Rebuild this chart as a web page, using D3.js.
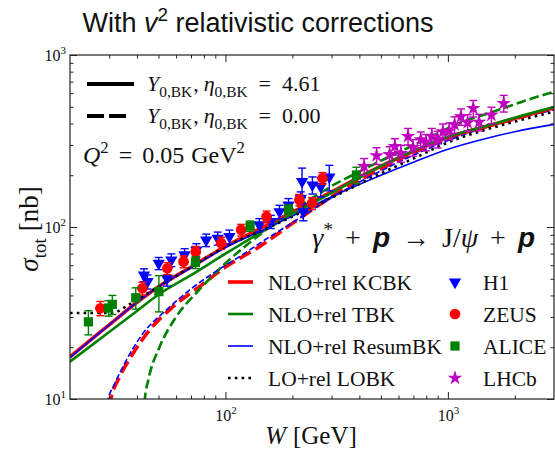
<!DOCTYPE html>
<html>
<head>
<meta charset="utf-8">
<script src="https://cdn.jsdelivr.net/npm/d3@7"></script>
<style>
  body { margin: 0; background: #fff; }
  svg { display: block; }
  text { font-family: "Liberation Serif", "DejaVu Serif", serif; fill: #111; }
</style>
</head>
<body>
<svg id="chart" width="555" height="455"></svg>
<script>
// ---------------- data ----------------
// Theory curves: W [GeV] grid and sigma_tot [nb]
const solidW    = [20, 25, 30, 40, 50, 70, 100, 150, 200, 300, 500, 700, 1000, 1500, 2000, 3000];
const kcbkSolid = [17.6, 22.3, 27.0, 36.5, 45.0, 58.5, 77, 101, 122, 160, 226, 275, 332, 385, 428, 493];
const tbkSolid  = [16.5, 20.5, 24.5, 32.5, 40.5, 52.5, 70, 96, 119, 158, 226, 277, 335, 388, 432, 498];
const rbkSolid  = [17.4, 22.2, 27.0, 36.5, 45.0, 58.0, 76, 97, 116, 150, 200, 238, 283, 328, 358, 395];

const loW    = [20, 31, 35, 40, 50, 70, 100, 150, 200, 300, 500, 700, 1000, 1500, 2000, 3000];
const loBK   = [31.6, 31.6, 34.0, 37.8, 45.0, 58.5, 77, 97, 115, 148, 205, 250, 310, 370, 410, 468];

const kcbkDashW = [29.0, 30.5, 33.5, 38.4, 45.6, 58.1, 76.4, 100, 142, 200, 300, 500, 1000, 2000, 3000];
const kcbkDash  = [7.0, 10, 13.5, 18.4, 25.2, 34.4, 45.0, 58.5, 76.8, 105, 150, 218, 328, 425, 490];

const rbkDashW = [28.3, 29.6, 31.3, 35.9, 42.6, 54.2, 69.0, 87.7, 115.6, 150, 200, 300, 500, 1000, 2000, 3000];
const rbkDash  = [7.5, 10, 11.8, 16.9, 24.1, 32.9, 43.0, 53.8, 67.2, 84, 106, 148, 212, 318, 425, 480];

const tbkDashW = [43.2, 43.4, 45, 50.6, 60, 76, 100, 150, 200, 268, 300, 372, 500, 624, 800, 1119, 1500, 1815, 2200, 3000];
const tbkDash  = [8.0, 10, 12.9, 20.1, 30, 43, 61.5, 95, 125, 158, 173, 200, 243, 278, 325, 401, 455, 495, 540, 612];

// Measurements
const h1W     = [43.0, 44.6, 50.1, 54.6, 57.1, 65.5, 74.0, 81.9, 92.3, 104.2, 142, 160, 175, 192, 218, 221, 224, 246, 268, 293];
const h1Sigma = [52.6, 48.1, 61.5, 50.3, 64.3, 68.8, 73.5, 83.9, 85.9, 87.9, 102.8, 107.4, 122.7, 134.3, 147, 184, 122.7, 175.5, 171.6, 195.3];
const h1Err   = [4.5, 4.5, 5, 5, 5.5, 6, 6.5, 7, 7.5, 8, 9, 9.5, 11, 12, 13, 36, 14, 20, 22, 33];

const zeusW     = [27.4, 42.3, 54.8, 64.8, 73.5, 95.6, 117.6, 153, 215, 245, 273];
const zeusSigma = [33.7, 44.0, 57.5, 62.9, 71.6, 80.7, 96.1, 114.8, 143.6, 137.3, 192];
const zeusErr   = [3.2, 3.8, 4.6, 5, 5.5, 6.5, 7.5, 9, 11, 11, 15];

const aliceW     = [24.2, 29.8, 31.0, 39.5, 50.2, 73.3, 129, 192, 388];
const aliceSigma = [28.1, 33.8, 35.5, 38.8, 42.1, 62.3, 101.4, 125.6, 200.6];
const aliceErr   = [4.5, 3.5, 4.5, 5.5, 10, 5, 7, 9, 22];

const lhcbW     = [420, 478, 547, 578, 615, 662, 697, 755, 797, 847, 899, 950, 1014, 1072, 1145, 1227, 1301, 1381, 1570, 1783];
const lhcbSigma = [225, 260, 264, 294, 268, 337, 290, 322, 311, 337, 324, 358, 362, 394, 438, 405, 490, 407, 448, 524];
const lhcbErr   = [25, 29, 29, 32, 30, 37, 32, 35, 34, 37, 36, 39, 40, 43, 48, 45, 54, 45, 49, 58];

// Axis ticks
const xMajor = [100, 1000];
const xTickExp = ["2", "3"];
const yMajor = [10, 100, 1000];
const yTickExp = ["1", "2", "3"];

// Legend labels
const curveLabels = ["NLO+rel KCBK", "NLO+rel TBK", "NLO+rel ResumBK", "LO+rel LOBK"];
const dataLabels  = ["H1", "ZEUS", "ALICE", "LHCb"];

// ---------------- layout ----------------
const svg = d3.select("#chart");
const L = 70, R = 554, T = 55, B = 399;

const x = d3.scaleLog().domain([20, 3000]).range([L, R]);
const y = d3.scaleLog().domain([10, 1000]).range([B, T]);

const RED = "#ff0000", GREEN = "#008000", BLUE = "#0000ff", MAG = "#bf00bf", BLACK = "#000";

svg.append("defs").append("clipPath").attr("id", "plotclip")
  .append("rect").attr("x", L).attr("y", T).attr("width", R - L).attr("height", B - T);

// rich text helper: parts with italic / sub / sup flags
function rich(sel, px, py, parts, size, anchor) {
  const t = sel.append("text").attr("x", px).attr("y", py)
    .style("font-size", size + "px").attr("text-anchor", anchor || "start");
  let shift = 0;
  parts.forEach(p => {
    const ts = t.append("tspan").text(p.t);
    const target = p.sub ? size * 0.28 : p.sup ? -size * 0.4 : 0;
    if (target - shift !== 0) ts.attr("dy", target - shift);
    shift = target;
    if (p.sub || p.sup) ts.style("font-size", (size * 0.7) + "px");
    if (p.i) ts.style("font-style", "italic");
    if (p.b) ts.style("font-weight", "bold");
    if (p.f) ts.style("font-family", p.f);
    if (p.dx) ts.attr("dx", p.dx);
  });
  return t;
}

// ---------------- curves ----------------
const line = d3.line().x(d => x(d[0])).y(d => y(d[1])).curve(d3.curveMonotoneX);
const zip = (a, b) => a.map((v, i) => [v, b[i]]);

const curves = [
  { w: kcbkDashW, s: kcbkDash, c: RED,   lw: 3.6, dash: "13,5.5" },
  { w: tbkDashW,  s: tbkDash,  c: GREEN, lw: 2.6, dash: "9.5,4" },
  { w: rbkDashW,  s: rbkDash,  c: BLUE,  lw: 1.6, dash: "6,2.6" },
  { w: solidW,    s: kcbkSolid, c: RED,   lw: 3.6, dash: null },
  { w: solidW,    s: tbkSolid,  c: GREEN, lw: 2.6, dash: null },
  { w: solidW,    s: rbkSolid,  c: BLUE,  lw: 1.6, dash: null },
  { w: loW,       s: loBK,      c: BLACK, lw: 2.6, dash: "2.6,4.2" }
];

const gCurves = svg.append("g").attr("clip-path", "url(#plotclip)");
curves.forEach(cv => {
  gCurves.append("path")
    .attr("d", line(zip(cv.w, cv.s)))
    .attr("fill", "none")
    .attr("stroke", cv.c)
    .attr("stroke-width", cv.lw)
    .attr("stroke-dasharray", cv.dash)
    .attr("stroke-linecap", "butt");
});

// ---------------- data points ----------------
const sets = [
  { w: h1W,    s: h1Sigma,    e: h1Err,    c: BLUE,  sym: d3.symbolTriangle, size: 66, rot: 180 },
  { w: zeusW,  s: zeusSigma,  e: zeusErr,  c: RED,   sym: d3.symbolCircle,   size: 90, rot: 0 },
  { w: aliceW, s: aliceSigma, e: aliceErr, c: GREEN, sym: d3.symbolSquare,   size: 85, rot: 0 },
  { w: lhcbW,  s: lhcbSigma,  e: lhcbErr,  c: MAG,   sym: d3.symbolStar,     size: 66, rot: 0 }
];

const gData = svg.append("g").attr("clip-path", "url(#plotclip)");
sets.forEach(ds => {
  const pts = ds.w.map((w, i) => ({ w, s: ds.s[i], e: ds.e[i] }));
  const g = gData.append("g");
  g.selectAll("line.eb").data(pts).join("line")
    .attr("x1", d => x(d.w)).attr("x2", d => x(d.w))
    .attr("y1", d => y(d.s - d.e)).attr("y2", d => y(d.s + d.e))
    .attr("stroke", ds.c).attr("stroke-width", 1.4);
  ["lo", "hi"].forEach(k => {
    g.selectAll("line.cap" + k).data(pts).join("line")
      .attr("x1", d => x(d.w) - 4).attr("x2", d => x(d.w) + 4)
      .attr("y1", d => y(k === "lo" ? d.s - d.e : d.s + d.e))
      .attr("y2", d => y(k === "lo" ? d.s - d.e : d.s + d.e))
      .attr("stroke", ds.c).attr("stroke-width", 1.4);
  });
  g.selectAll("path").data(pts).join("path")
    .attr("d", d3.symbol().type(ds.sym).size(ds.size))
    .attr("transform", d => `translate(${x(d.w)},${y(d.s)}) rotate(${ds.rot})`)
    .attr("fill", ds.c);
});

// ---------------- axes ----------------
function minorTicks(lo, hi) {
  const out = [];
  for (let dec = 1; dec <= 1e4; dec *= 10)
    for (let m = 2; m <= 9; m++) {
      const v = m * dec;
      if (v > lo && v < hi) out.push(v);
    }
  return out;
}
const xMinor = minorTicks(20, 3000);
const yMinor = minorTicks(10, 1000);

function styleAxis(g) {
  g.attr("font-family", null).attr("font-size", null);
  g.select(".domain").remove();
  g.selectAll(".tick line").attr("stroke", "#222").attr("stroke-width", 1);
}

// bottom
const gxB = svg.append("g").attr("transform", `translate(0,${B})`)
  .call(d3.axisBottom(x).tickValues(xMajor).tickSize(-7).tickPadding(11).tickFormat(() => ""));
styleAxis(gxB);
gxB.selectAll(".tick text").each(function (d, i) {
  const t = d3.select(this).style("font-size", "16px");
  t.append("tspan").text("10");
  t.append("tspan").attr("dy", -7).style("font-size", "11px").text(xTickExp[i]);
});
svg.append("g").attr("transform", `translate(0,${B})`)
  .call(d3.axisBottom(x).tickValues(xMinor).tickSize(-3.5).tickFormat(() => "")).call(styleAxis);
// top
svg.append("g").attr("transform", `translate(0,${T})`)
  .call(d3.axisTop(x).tickValues(xMajor).tickSize(-7).tickFormat(() => "")).call(styleAxis);
svg.append("g").attr("transform", `translate(0,${T})`)
  .call(d3.axisTop(x).tickValues(xMinor).tickSize(-3.5).tickFormat(() => "")).call(styleAxis);

// left
const gyL = svg.append("g").attr("transform", `translate(${L},0)`)
  .call(d3.axisLeft(y).tickValues(yMajor).tickSize(-7).tickPadding(4).tickFormat(() => ""));
styleAxis(gyL);
gyL.selectAll(".tick text").each(function (d, i) {
  const t = d3.select(this).style("font-size", "16px");
  t.append("tspan").text("10");
  t.append("tspan").attr("dy", -7).style("font-size", "11px").text(yTickExp[i]);
});
svg.append("g").attr("transform", `translate(${L},0)`)
  .call(d3.axisLeft(y).tickValues(yMinor).tickSize(-3.5).tickFormat(() => "")).call(styleAxis);
// right
svg.append("g").attr("transform", `translate(${R},0)`)
  .call(d3.axisRight(y).tickValues(yMajor).tickSize(-7).tickFormat(() => "")).call(styleAxis);
svg.append("g").attr("transform", `translate(${R},0)`)
  .call(d3.axisRight(y).tickValues(yMinor).tickSize(-3.5).tickFormat(() => "")).call(styleAxis);

// frame
svg.append("rect").attr("x", L).attr("y", T).attr("width", R - L).attr("height", B - T)
  .attr("fill", "none").attr("stroke", "#222").attr("stroke-width", 1.2);

// ---------------- labels ----------------
rich(svg, 258, 32, [
  { t: "With " }, { t: "v", i: true }, { t: "2", sup: true }, { t: " relativistic corrections" }
], 27, "middle").style("font-family", "'Liberation Sans', Arial, sans-serif");

rich(svg, 311, 444, [{ t: "W", i: true }, { t: "[GeV]", dx: 7 }], 25, "middle");

const yl = svg.append("g").attr("transform", "translate(38,229) rotate(-90)");
rich(yl, 0, 0, [{ t: "σ", i: true }, { t: "tot", sub: true }, { t: "[nb]", dx: 7 }], 27, "middle");

// top-left key for the initial conditions
const keyRows = [
  { dash: null, val: "4.61", yy: 84, base: 91 },
  { dash: "17,5", val: "0.00", yy: 116, base: 123 }
];
keyRows.forEach(r => {
  svg.append("line").attr("x1", 87).attr("x2", r.dash ? 127 : 134)
    .attr("y1", r.yy).attr("y2", r.yy)
    .attr("stroke", BLACK).attr("stroke-width", 4).attr("stroke-dasharray", r.dash);
  rich(svg, 147, r.base, [
    { t: "Y", i: true }, { t: "0,BK", sub: true }, { t: ",", dx: 1 }, { t: "η", i: true, dx: 5 },
    { t: "0,BK", sub: true }, { t: "=", dx: 11 }, { t: r.val, dx: 11 }
  ], 22);
});

rich(svg, 83, 163, [
  { t: "Q", i: true }, { t: "2", sup: true }, { t: "=", dx: 10 }, { t: "0.05", dx: 10 },
  { t: "GeV", dx: 7 }, { t: "2", sup: true }
], 24);

// reaction
rich(svg, 535, 247, [
  { t: "γ", i: true }, { t: "*", sup: true }, { t: "+", dx: 12 },
  { t: "p", i: true, b: true, f: "'Liberation Sans', sans-serif", dx: 12 },
  { t: "→", dx: 12 }, { t: "J/", dx: 12 }, { t: "ψ", i: true }, { t: "+", dx: 12 },
  { t: "p", i: true, b: true, f: "'Liberation Sans', sans-serif", dx: 12 }
], 28, "end");

// curve legend
curveLabels.forEach((lab, i) => {
  const cv = curves[3 + i];
  const base = 290 + 32 * i;
  svg.append("line").attr("x1", 228).attr("x2", 253)
    .attr("y1", base - 8).attr("y2", base - 8)
    .attr("stroke", cv.c)
    .attr("stroke-width", cv.lw)
    .attr("stroke-dasharray", cv.dash);
  svg.append("text").attr("x", 268).attr("y", base).style("font-size", "21.5px").text(lab);
});

// data legend
dataLabels.forEach((lab, i) => {
  const ds = sets[i];
  const base = 290 + 32 * i;
  svg.append("path")
    .attr("d", d3.symbol().type(ds.sym).size(ds.size))
    .attr("transform", `translate(455,${base - 8}) rotate(${ds.rot})`)
    .attr("fill", ds.c);
  svg.append("text").attr("x", 483).attr("y", base).style("font-size", "21.5px").text(lab);
});
</script>
</body>
</html>
